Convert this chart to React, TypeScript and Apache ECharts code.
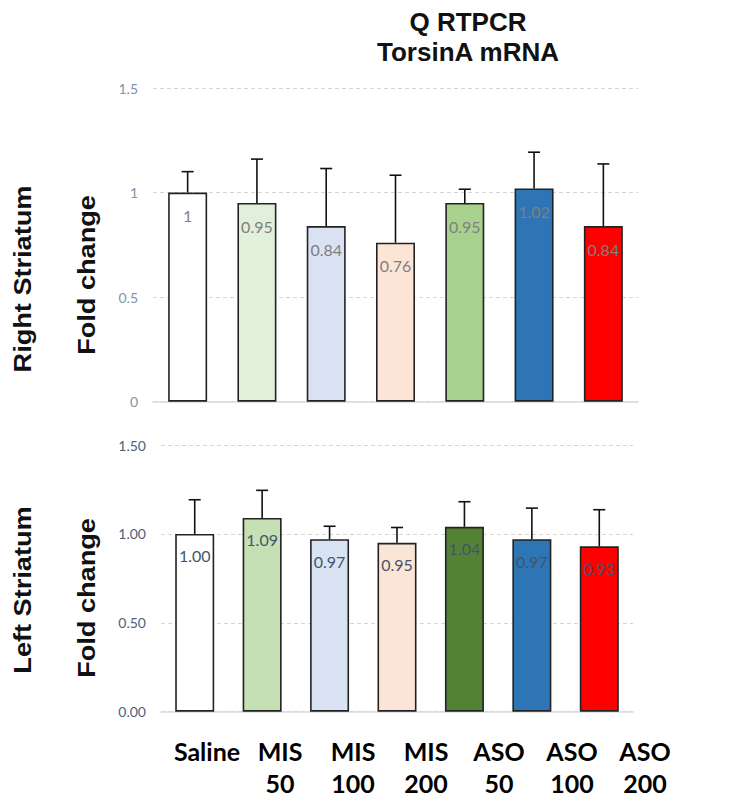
import React, { useEffect, useRef } from "react";
import * as echarts from "echarts";

const categories = ["Saline", "MIS\n50", "MIS\n100", "MIS\n200", "ASO\n50", "ASO\n100", "ASO\n200"];
const rightValues = [1, 0.95, 0.84, 0.76, 0.95, 1.02, 0.84];
const rightUpper = [1.1, 1.16, 1.115, 1.083, 1.016, 1.193, 1.137];
const leftValues = [1.0, 1.09, 0.97, 0.95, 1.04, 0.97, 0.93];
const leftUpper = [1.192, 1.245, 1.043, 1.036, 1.181, 1.145, 1.136];
const rightColors = ["#FFFFFF", "#E2EFDA", "#D9E1F2", "#FCE4D6", "#A9D18E", "#2E75B6", "#FF0000"];
const leftColors = ["#FFFFFF", "#C5E0B4", "#DAE3F3", "#FBE5D6", "#548235", "#2E75B6", "#FF0000"];

const errRender = (params: any, api: any) => {
  const x = api.value(0);
  const y = api.value(1);
  const hi = api.value(2);
  const p0 = api.coord([x, y]);
  const p1 = api.coord([x, hi]);
  const st = { stroke: "#111", lineWidth: 1.6 };
  return {
    type: "group",
    children: [
      { type: "line", shape: { x1: p0[0], y1: p0[1], x2: p1[0], y2: p1[1] }, style: st },
      { type: "line", shape: { x1: p1[0] - 6, y1: p1[1], x2: p1[0] + 6, y2: p1[1] }, style: st },
    ],
  };
};

export default function App() {
  const ref = useRef<HTMLDivElement>(null);
  useEffect(() => {
    if (!ref.current) return;
    const chart = echarts.init(ref.current, undefined, { renderer: "svg" });
    const barCats = categories.map((c) => c.replace("\n", " "));
    const sideFont = "'Liberation Sans', Arial, sans-serif";
    const side = (text: string, x: number, y: number) => ({
      type: "text", x, y, rotation: Math.PI / 2, scaleX: 1.18, scaleY: 1,
      style: { text, fontFamily: sideFont, fontWeight: "bold", fontSize: 23, fill: "#111", align: "center", verticalAlign: "middle" },
    });
    chart.setOption({
      animation: false,
      backgroundColor: "#ffffff",
      grid: [
        { left: 153, top: 88, width: 485, height: 313.7 },
        { left: 161, top: 445, width: 472, height: 266.7 },
        { left: 170.5, top: 720, width: 511, height: 1 },
      ],
      xAxis: [
        {
          type: "category", gridIndex: 0, data: barCats,
          axisLine: { lineStyle: { color: "#d9d9d9", width: 1.5 } }, axisTick: { show: false }, axisLabel: { show: false },
        },
        {
          type: "category", gridIndex: 1, data: barCats,
          axisLine: { lineStyle: { color: "#d9d9d9", width: 1.5 } }, axisTick: { show: false }, axisLabel: { show: false },
        },
        {
          type: "category", gridIndex: 2, data: categories,
          axisLine: { show: false }, axisTick: { show: false },
          axisLabel: { show: true, interval: 0, margin: 14, fontFamily: "Lato, sans-serif", fontWeight: "bold", fontSize: 25, lineHeight: 32, color: "#000" },
        },
      ],
      yAxis: [
        {
          type: "value", gridIndex: 0, min: 0, max: 1.5, interval: 0.5,
          axisLine: { show: false }, axisTick: { show: false },
          splitLine: { lineStyle: { color: "#d6d6d6", type: [4, 3] } },
          axisLabel: { margin: 15, fontFamily: "Lato, sans-serif", fontSize: 14, color: "#8393aa" },
        },
        {
          type: "value", gridIndex: 1, min: 0, max: 1.5, interval: 0.5,
          axisLine: { show: false }, axisTick: { show: false },
          splitLine: { lineStyle: { color: "#d6d6d6", type: [4, 3] } },
          axisLabel: { margin: 15, fontFamily: "Lato, sans-serif", fontSize: 14, color: "#4d5f80", formatter: (v: number) => v.toFixed(2) },
        },
        { type: "value", gridIndex: 2, show: false },
      ],
      series: [
        {
          type: "bar", xAxisIndex: 0, yAxisIndex: 0, barWidth: 39,
          data: rightValues.map((v, i) => ({ value: v, itemStyle: { color: rightColors[i] } })),
          itemStyle: { borderColor: "#222", borderWidth: 1.6 },
          label: { show: true, position: "insideTop", distance: 15, fontFamily: "Lato, sans-serif", fontSize: 16, color: "#7f7f7f" },
        },
        {
          type: "custom", xAxisIndex: 0, yAxisIndex: 0, renderItem: errRender, z: 3,
          data: rightValues.map((v, i) => [i, v, rightUpper[i]]),
        },
        {
          type: "bar", xAxisIndex: 1, yAxisIndex: 1, barWidth: 39,
          data: leftValues.map((v, i) => ({ value: v, itemStyle: { color: leftColors[i] } })),
          itemStyle: { borderColor: "#222", borderWidth: 1.6 },
          label: { show: true, position: "insideTop", distance: 14, fontFamily: "Lato, sans-serif", fontSize: 16, color: "#44546A", formatter: (p: any) => Number(p.value).toFixed(2) },
        },
        {
          type: "custom", xAxisIndex: 1, yAxisIndex: 1, renderItem: errRender, z: 3,
          data: leftValues.map((v, i) => [i, v, leftUpper[i]]),
        },
      ],
      graphic: [
        {
          type: "text", x: 468, y: 7,
          style: { text: "Q RTPCR\nTorsinA mRNA", fontFamily: sideFont, fontWeight: "bold", fontSize: 26, lineHeight: 30, fill: "#111", align: "center", verticalAlign: "top" },
        },
        side("Right Striatum", 23, 279),
        side("Fold change", 87, 275),
        side("Left Striatum", 23, 590),
        side("Fold change", 87, 598),
      ],
    });
    return () => chart.dispose();
  }, []);
  return <div ref={ref} style={{ position: "fixed", left: 0, top: 0, width: 731, height: 803 }} />;
}
